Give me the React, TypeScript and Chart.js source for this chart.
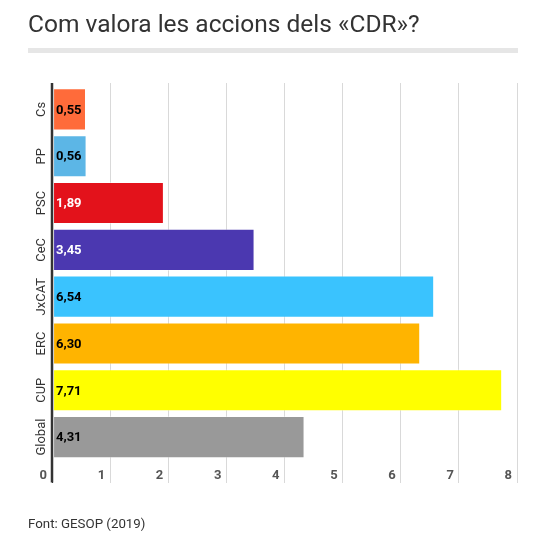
import { useEffect, useRef } from 'react';
import { Chart, registerables } from 'chart.js';

Chart.register(...registerables);

const parties = ['Cs', 'PP', 'PSC', 'CeC', 'JxCAT', 'ERC', 'CUP', 'Global'];
const scores = [0.55, 0.56, 1.89, 3.45, 6.54, 6.3, 7.71, 4.31];
const barColors = ['#ff6b3a', '#5cb6e6', '#e3121b', '#4b38b0', '#3ac3fe', '#ffb400', '#ffff00', '#999999'];
const valueColors = ['#000', '#000', '#fff', '#fff', '#000', '#000', '#000', '#000'];
const axisTicks = [0, 1, 2, 3, 4, 5, 6, 7, 8];

// bars in the original start a couple of pixels right of the zero line
const BAR_SCALE_MIN = -0.035;
const BAR_SCALE_MAX = 7.965;

const fmt = (v: number) => v.toFixed(2).replace('.', ',');

const overlay = {
  id: 'overlay',
  afterDatasetsDraw(chart: any) {
    const { ctx, chartArea, scales } = chart;
    const grid = scales.x2;
    const x0 = grid.getPixelForValue(0);
    ctx.save();

    // dark zero line on top of the bars
    ctx.strokeStyle = '#333';
    ctx.lineWidth = 2.5;
    ctx.beginPath();
    ctx.moveTo(x0, chartArea.top - 3);
    ctx.lineTo(x0, chartArea.bottom + 22);
    ctx.stroke();

    // values inside the bars
    const meta = chart.getDatasetMeta(0);
    ctx.font = 'bold 13px Roboto';
    ctx.textBaseline = 'middle';
    ctx.textAlign = 'left';
    meta.data.forEach((bar: any, i: number) => {
      ctx.fillStyle = valueColors[i];
      ctx.fillText(fmt(scores[i]), x0 + 4, bar.y + 1);
    });

    // x tick labels, sitting inside the extended grid lines
    ctx.font = 'bold 13px Roboto';
    ctx.fillStyle = '#555';
    ctx.textAlign = 'right';
    ctx.textBaseline = 'alphabetic';
    axisTicks.forEach((v) => {
      ctx.fillText(String(v), grid.getPixelForValue(v) - 5, chartArea.bottom + 18.5);
    });

    // rotated category labels
    ctx.font = '13px Roboto';
    ctx.fillStyle = '#333';
    ctx.textAlign = 'center';
    ctx.textBaseline = 'middle';
    parties.forEach((p, i) => {
      const py = scales.y.getPixelForTick(i);
      ctx.save();
      ctx.translate(chartArea.left - 10.5, py);
      ctx.rotate(-Math.PI / 2);
      ctx.fillText(p, 0, 0);
      ctx.restore();
    });
    ctx.restore();
  },
};

const gridColor = (c: any) => (c.tick && c.tick.value === 0 ? '#333' : '#d9d9d9');
const setTicks = (s: any) => {
  s.ticks = axisTicks.map((v) => ({ value: v }));
};

export default function App() {
  const canvasRef = useRef<HTMLCanvasElement | null>(null);

  useEffect(() => {
    if (!canvasRef.current) return;
    const chart = new Chart(canvasRef.current, {
      type: 'bar',
      data: {
        labels: parties,
        datasets: [
          {
            data: scores,
            backgroundColor: barColors,
            borderColor: 'rgba(255,255,255,0.35)',
            borderWidth: 1,
            barPercentage: 0.9,
            categoryPercentage: 1,
            clip: false,
            xAxisID: 'x',
            yAxisID: 'y',
          },
        ],
      },
      options: {
        indexAxis: 'y',
        animation: false,
        responsive: true,
        maintainAspectRatio: false,
        layout: { padding: { left: 52, right: 30, top: 83, bottom: 69 } },
        plugins: {
          legend: { display: false },
          tooltip: { enabled: false },
        },
        scales: {
          y: { type: 'category', display: false, offset: true },
          x: { type: 'linear', display: false, min: BAR_SCALE_MIN, max: BAR_SCALE_MAX },
          xTop: {
            type: 'linear',
            position: 'top',
            min: 0,
            max: 8,
            afterBuildTicks: setTicks,
            ticks: { display: false },
            grid: { drawOnChartArea: false, drawTicks: true, tickLength: 3, color: gridColor },
            border: { display: false },
          },
          x2: {
            type: 'linear',
            position: 'bottom',
            min: 0,
            max: 8,
            afterBuildTicks: setTicks,
            ticks: { display: false },
            grid: { color: gridColor, lineWidth: 1, drawTicks: true, tickLength: 22.5 },
            border: { display: false },
          },
        },
      },
      plugins: [overlay],
    });
    return () => chart.destroy();
  }, []);

  return (
    <div style={{ position: 'absolute', left: 0, top: 0, width: 547, height: 552, background: '#fff', fontFamily: 'Roboto', color: '#333' }}>
      <canvas ref={canvasRef} />
      <div style={{ position: 'absolute', left: 28, top: 10, fontSize: 24.5, lineHeight: '28px', whiteSpace: 'nowrap' }}>
        Com valora les accions dels «CDR»?
      </div>
      <div style={{ position: 'absolute', left: 28, top: 48, width: 490, height: 5, background: '#e6e6e6' }} />
      <div style={{ position: 'absolute', left: 28, top: 515.5, fontSize: 13.3, lineHeight: '16px', whiteSpace: 'nowrap' }}>
        Font: GESOP (2019)
      </div>
    </div>
  );
}
